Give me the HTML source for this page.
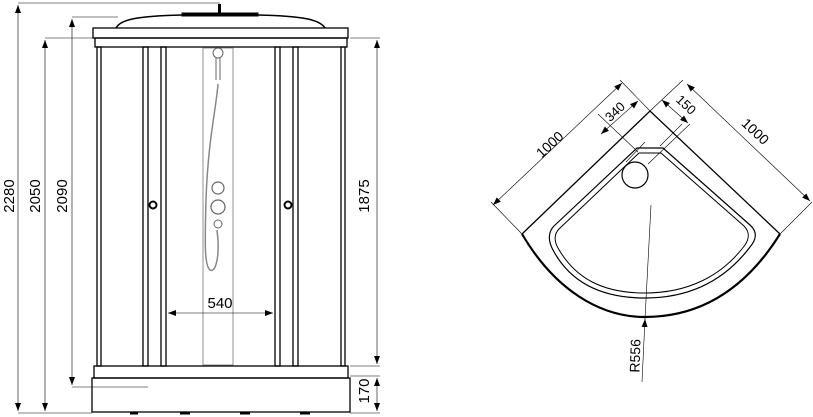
<!DOCTYPE html>
<html><head><meta charset="utf-8"><style>
html,body{margin:0;padding:0;background:#fff;}
svg{display:block;font-family:"Liberation Sans",sans-serif;}
</style></head><body>
<svg width="813" height="417" viewBox="0 0 813 417" xmlns="http://www.w3.org/2000/svg">
<defs>
<marker id="a" markerWidth="8" markerHeight="6" refX="8" refY="3" orient="auto-start-reverse" markerUnits="userSpaceOnUse"><path d="M0,0 L8,3 L0,6 z" fill="#000"/></marker>
</defs>
<g fill="none" stroke="#000" stroke-width="1">
<!-- dome -->
<path d="M116,28 C120,20 135,16 182,15 L258,15 C305,16 320,20 325,28" stroke-width="1.5"/>
<rect x="182" y="13" width="76" height="3" fill="#000"/>
<rect x="218" y="4" width="3" height="10" fill="#000" stroke="none"/>
<!-- header -->
<rect x="93" y="28" width="255" height="10" stroke-width="1.3"/>
<rect x="95" y="38" width="252" height="9" stroke-width="1.3"/>
<!-- posts -->
<rect x="97" y="47" width="4" height="319" stroke-width="1.3"/>
<rect x="143" y="47" width="5" height="319" stroke-width="1.3"/>
<rect x="161" y="47" width="5" height="319" stroke-width="1.3"/>
<rect x="275" y="47" width="5" height="319" stroke-width="1.3"/>
<rect x="293" y="47" width="5" height="319" stroke-width="1.3"/>
<rect x="341" y="47" width="4" height="319" stroke-width="1.3"/>
<!-- panel -->
<rect x="203" y="48" width="30" height="317" stroke="#777" stroke-width="0.8"/>
<circle cx="218" cy="53" r="5" stroke="#666"/>
<path d="M216,58 L216,80 M220,58 L220,80" stroke="#666"/>
<path d="M218,84 C216,110 208,140 206,200 C205,240 204,265 210,270 C215,273 219,260 218,240 L217,230" stroke="#888" stroke-width="1.5"/>
<circle cx="218" cy="188" r="6" stroke="#666" stroke-width="1.2"/>
<circle cx="218" cy="207" r="7" stroke="#666" stroke-width="1.2"/>
<circle cx="218" cy="224" r="4" stroke="#666"/>
<!-- handles -->
<circle cx="153" cy="205" r="3.5" stroke-width="2"/>
<circle cx="288" cy="205" r="3.5" stroke-width="2"/>
<!-- tray -->
<rect x="94" y="366" width="254" height="12" stroke-width="1.3"/>
<rect x="92" y="378" width="258" height="34" stroke-width="1.3"/>
<path d="M130,413 h8 M180,413 h10 M240,413 h10 M300,413 h10" stroke-width="3"/>
<!-- dims left -->
<g stroke-width="0.6">
<path d="M18,3 H220 M18,413 H92 M45,38 H93 M72,17 H118 M72,387 H148 M350,38 H380 M350,366 H380 M350,376 H380 M350,413 H380"/>
<line x1="18" y1="5" x2="18" y2="411" marker-start="url(#a)" marker-end="url(#a)"/>
<line x1="45" y1="40" x2="45" y2="411" marker-start="url(#a)" marker-end="url(#a)"/>
<line x1="72" y1="19" x2="72" y2="385" marker-start="url(#a)" marker-end="url(#a)"/>
<line x1="377" y1="40" x2="377" y2="364" marker-start="url(#a)" marker-end="url(#a)"/>
<line x1="377" y1="378" x2="377" y2="411" marker-start="url(#a)" marker-end="url(#a)"/>
<line x1="168" y1="313" x2="273" y2="313" marker-start="url(#a)" marker-end="url(#a)"/>
</g>
</g>
<g font-size="15" fill="#000" text-anchor="middle">
<text transform="translate(14,196) rotate(-90)">2280</text>
<text transform="translate(40,196) rotate(-90)">2050</text>
<text transform="translate(67,196) rotate(-90)">2090</text>
<text transform="translate(369,196) rotate(-90)">1875</text>
<text transform="translate(369,391) rotate(-90)">170</text>
<text x="220" y="308">540</text>
</g>
<!-- right drawing -->
<g fill="none" stroke="#000">
<path d="M522,234 L650,111 L780,234" stroke-width="1.3"/>
<path d="M522,234 C555,290 600,317 645,317 C700,317 745,290 780,234" stroke-width="2.2"/>
<path d="M637,148 L663,148 L750,225 C758,232 756,240 750,247 C725,280 690,298 645,298 C600,298 570,282 553,250 C548,241 548,232 554,226 Z" stroke-width="1.2"/>
<path d="M639,153 L661,153 L744,226 C750,232 749,239 745,245 C722,276 688,293 645,293 C602,293 575,278 558,248 C554,241 554,234 559,229 Z" stroke-width="1"/>
<circle cx="635" cy="175" r="13" stroke-width="1.2"/>
<g stroke-width="0.6">
<path d="M522,234 L491,202 M650,111 L620,80 M650,111 L683,80 M780,234 L812,202 M638,152 L598,114 M626,162 L645,142 M648,164 L690,124 M660,146 L682,124"/>
<line x1="493" y1="205" x2="622" y2="83" marker-start="url(#a)" marker-end="url(#a)"/>
<line x1="687" y1="84" x2="810" y2="201" marker-start="url(#a)" marker-end="url(#a)"/>
<line x1="601" y1="134" x2="638" y2="101" marker-start="url(#a)" marker-end="url(#a)"/>
<line x1="662" y1="100" x2="688" y2="123" marker-start="url(#a)" marker-end="url(#a)"/>
<line x1="642" y1="382" x2="645" y2="319" marker-end="url(#a)"/>
<line x1="645" y1="319" x2="651" y2="205"/>
</g>
</g>
<g font-size="14" fill="#000" text-anchor="middle">
<text transform="translate(553,148) rotate(-43)">1000</text>
<text transform="translate(752,135) rotate(43)">1000</text>
<text transform="translate(618,115) rotate(-43)" font-size="13">340</text>
<text transform="translate(683,108) rotate(43)" font-size="13">150</text>
<text transform="translate(640,356) rotate(-88)">R556</text>
</g>
</svg>
</body></html>
